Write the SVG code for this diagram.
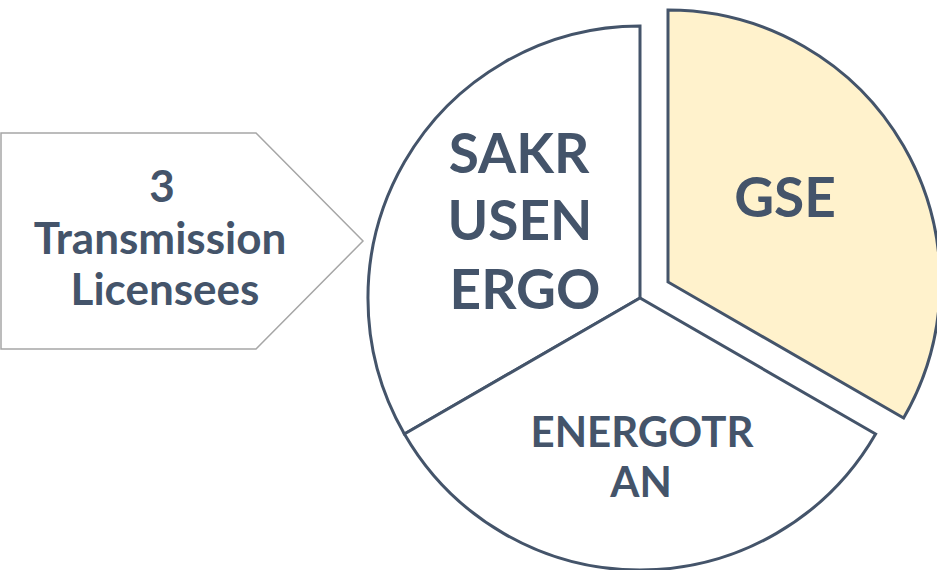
<svg xmlns="http://www.w3.org/2000/svg" width="937" height="570" viewBox="0 0 937 570">
<style>
.slice{stroke:#44546A;stroke-width:3;stroke-linejoin:miter}
.t{font-family:Lato,"Open Sans","Liberation Sans",sans-serif;font-weight:bold;fill:#44546A;text-anchor:middle}
</style>
<rect width="937" height="570" fill="#FFFFFF"/>
<g id="arrow">
<polygon points="1,133 256,133 363,241 256,349 1,349" fill="#FFFFFF" stroke="#A6A6A6" stroke-width="1.5"/>
<text class="t" x="162" y="202" font-size="44">3</text>
<text class="t" x="160" y="254" font-size="44">Transmission</text>
<text class="t" x="165" y="305" font-size="44">Licensees</text>
</g>
<g id="sakrusenergo">
<path class="slice" d="M640,298 L640,26 A272,272 0 0 0 404.4,434 Z" fill="#FFFFFF"/>
<text class="t" x="519" y="173" font-size="55">SAKR</text>
<text class="t" x="520" y="240" font-size="55">USEN</text>
<text class="t" x="525" y="309" font-size="55">ERGO</text>
</g>
<g id="energotran">
<path class="slice" d="M640,298 L404.4,434 A272,272 0 0 0 875.6,434 Z" fill="#FFFFFF"/>
<text class="t" x="642" y="447" font-size="42">ENERGOTR</text>
<text class="t" x="641" y="497" font-size="42">AN</text>
</g>
<g id="gse">
<path class="slice" d="M668,282 L668,10 A272,272 0 0 1 903.6,418 Z" fill="#FFF2CC"/>
<text class="t" x="785" y="217" font-size="55">GSE</text>
</g>
<g id="connectors"></g>
</svg>
